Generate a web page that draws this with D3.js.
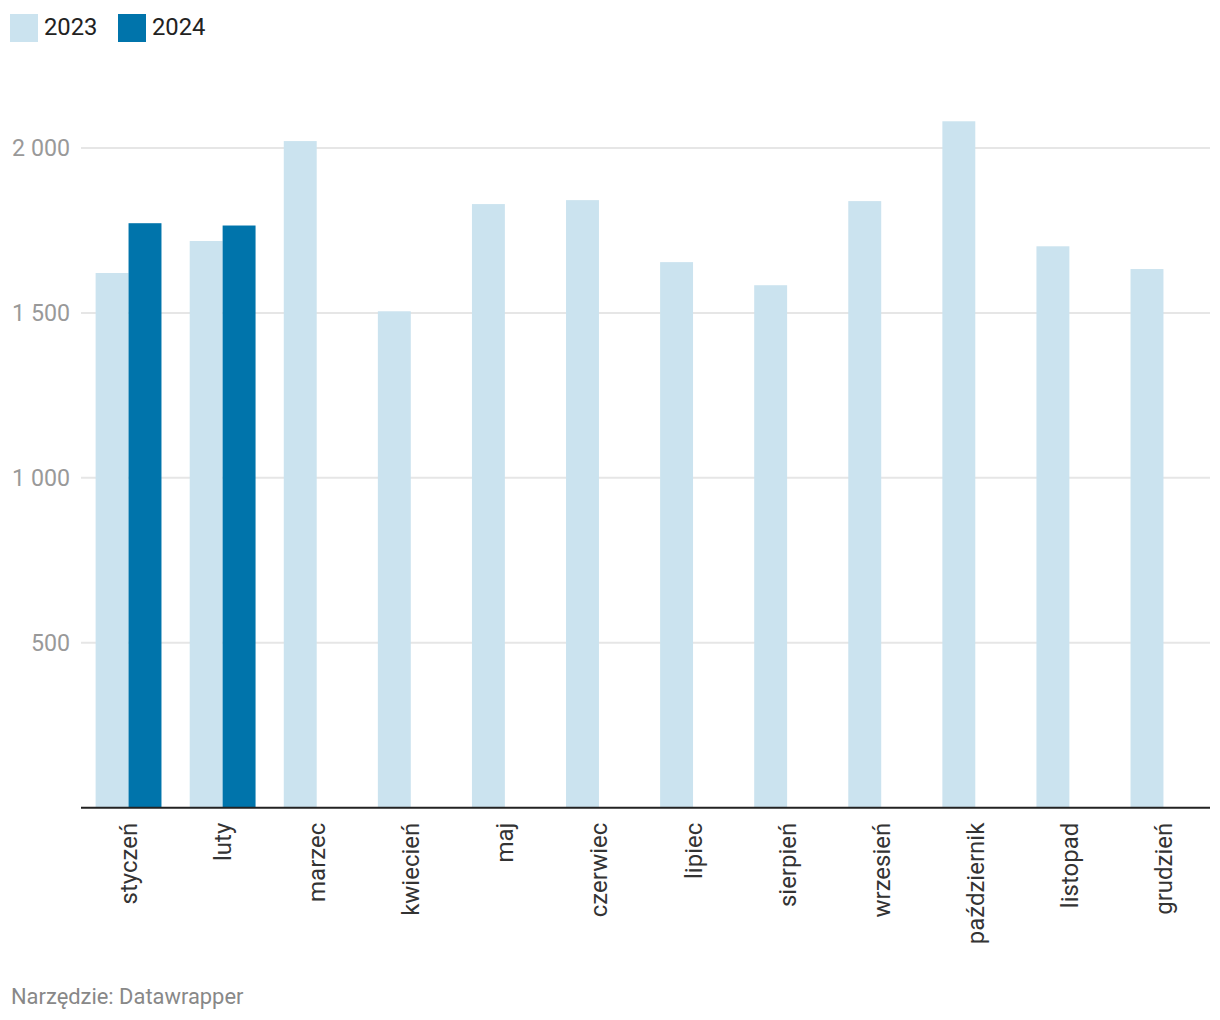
<!DOCTYPE html>
<html>
<head>
<meta charset="utf-8">
<script src="https://cdn.jsdelivr.net/npm/d3@7"></script>
<style>
  body{margin:0;background:#fff;font-family:Roboto,"Noto Sans",sans-serif;}
  .grid line{stroke:#e6e6e6;stroke-width:2;}
  .ylab{fill:#999;font-size:23.2px;}
  .xlab{fill:#333;font-size:24px;}
  .leg{fill:#222;font-size:23.8px;}
  .note{fill:#888;font-size:21.9px;}
</style>
</head>
<body>
<svg></svg>
<script>
// dane
const months = ['styczeń','luty','marzec','kwiecień','maj','czerwiec','lipiec','sierpień','wrzesień','październik','listopad','grudzień'];
const years = ['2023','2024'];
const v2023 = [1621,1718,2021,1505,1830,1842,1654,1584,1839,2081,1702,1633];
const v2024 = [1772,1765];
const y_ticks = [500,1000,1500,2000];
const colors = ['#cbe3ef','#0074ab'];

const W = 1220, H = 1020;
const m = {left:81.5, right:1210.5, top:148, bottom:807.7};

let svg = d3.select("svg").attr("width",W).attr("height",H);

let x0 = d3.scaleBand().domain(months).range([m.left,m.right])
  .paddingInner(0.3).paddingOuter(0.15);
let x1 = d3.scaleBand().domain(years).range([0,x0.bandwidth()]);
let y = d3.scaleLinear().domain([0,2000]).range([m.bottom,m.top]);

// linie siatki
let grid = svg.append("g").attr("class","grid");
grid.selectAll("line").data(y_ticks).enter().append("line")
  .attr("x1",81).attr("x2",1210)
  .attr("y1",d=>y(d)).attr("y2",d=>y(d));
svg.append("g").selectAll("text").data(y_ticks).enter().append("text")
  .attr("class","ylab").attr("x",70).attr("y",d=>y(d)+8)
  .attr("text-anchor","end")
  .text(d=>d3.format(",")(d).replace(',',' '));

// słupki
let rows = [];
months.forEach((mo,i)=>{
  rows.push({m:mo,k:'2023',v:v2023[i]});
  if(v2024[i]!==undefined) rows.push({m:mo,k:'2024',v:v2024[i]});
});
svg.append("g").selectAll("rect").data(rows).enter().append("rect")
  .attr("x",d=>x0(d.m)+x1(d.k))
  .attr("width",x1.bandwidth())
  .attr("y",d=>y(d.v))
  .attr("height",d=>y(0)-y(d.v))
  .attr("fill",d=>colors[years.indexOf(d.k)]);

// oś x
svg.append("line").attr("x1",81).attr("x2",1210)
  .attr("y1",y(0)).attr("y2",y(0))
  .attr("stroke","#222").attr("stroke-width",2);
svg.append("g").selectAll("text").data(months).enter().append("text")
  .attr("class","xlab")
  .attr("text-anchor","end")
  .attr("transform",d=>"translate("+(x0(d)+x0.bandwidth()/2+8.5)+","+(y(0)+15)+") rotate(-90)")
  .text(d=>d);

// legenda
let lx = [10,118];
let leg = svg.append("g").selectAll("g").data(years).enter().append("g")
  .attr("transform",(d,i)=>"translate("+lx[i]+",14)");
leg.append("rect").attr("width",28).attr("height",28).attr("fill",(d,i)=>colors[i]);
leg.append("text").attr("class","leg").attr("x",34).attr("y",21).text(d=>d);

svg.append("text").attr("class","note").attr("x",11).attr("y",1004)
  .text("Narzędzie: Datawrapper");
</script>
</body>
</html>
